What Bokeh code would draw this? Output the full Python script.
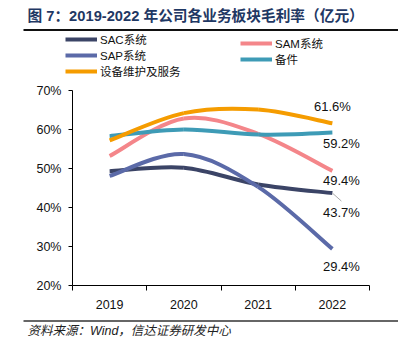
from bokeh.plotting import figure
from bokeh.layouts import column
from bokeh.models import (Range1d, FixedTicker, PrintfTickFormatter, Label, Legend,
                          LegendItem, Arrow)
from bokeh.embed import file_html
from bokeh.resources import INLINE

# ---- data ----
years = ["2019", "2020", "2021", "2022"]
sac = [49.3, 50.2, 45.9, 43.7]
sam = [53.2, 62.8, 58.9, 49.4]
sap = [48.1, 53.7, 45.3, 29.4]
spare = [58.3, 60.0, 58.7, 59.2]
service = [57.2, 64.2, 65.1, 61.6]

names = ["SAC系统", "SAM系统", "SAP系统", "备件", "设备维护及服务"]
colors = ["#3B4466", "#F4868A", "#5B6AA8", "#3E9BB6", "#F59C00"]
series = [sac, sam, sap, spare, service]

title_text = "图 7：2019-2022 年公司各业务板块毛利率（亿元）"
source_text = "资料来源：Wind，信达证券研发中心"

FONT = "'Liberation Sans', 'Noto Sans CJK SC', sans-serif"

W = 398
TOP_H, MID_H, BOT_H = 82, 230, 35


def blank_fig(h):
    f = figure(width=W, height=h, output_backend="svg", toolbar_location=None,
               x_range=Range1d(0, W), y_range=Range1d(h, 0),
               x_axis_type=None, y_axis_type=None,
               min_border_left=0, min_border_right=0, min_border_top=0, min_border_bottom=0)
    f.frame_align = False
    f.outline_line_color = None
    f.grid.visible = False
    f.background_fill_color = "white"
    f.border_fill_color = "white"
    return f


# ---------------- top: title + legend ----------------
top = blank_fig(TOP_H)
top.add_layout(Label(x=27, y=15, text=title_text, text_font=FONT, text_font_style="bold",
                     text_font_size="14.7px", text_color="#1F3864",
                     text_baseline="middle", text_align="left"))
top.segment(x0=[23], y0=[29.5], x1=[W], y1=[29.5], line_color="#111111", line_width=2)

proxies = {}
for k in range(5):
    proxies[k] = top.line(x=[-100, -90], y=[-100, -100], line_color=colors[k], line_width=4)


def make_legend(keys, loc):
    return Legend(items=[LegendItem(label=names[k], renderers=[proxies[k]]) for k in keys],
                  location=loc, orientation="vertical",
                  glyph_width=32, glyph_height=12, label_height=12, label_standoff=3,
                  spacing=0, padding=0, margin=0,
                  border_line_color=None, background_fill_alpha=0,
                  label_text_font=FONT, label_text_font_size="11.5px",
                  label_text_color="#111111")


top.add_layout(make_legend([0, 2, 4], (65, TOP_H - 79)))
top.add_layout(make_legend([1, 3], (240, TOP_H - 67)))

# ---------------- middle: chart ----------------
L, R, T = 72, 29, 8
B = MID_H - T - 195
p = figure(width=W, height=MID_H, output_backend="svg", toolbar_location=None,
           x_range=Range1d(-0.5, 3.5), y_range=Range1d(20, 70),
           min_border_left=L, min_border_right=R, min_border_top=T, min_border_bottom=B)
p.frame_align = False
p.outline_line_color = None
p.grid.visible = False
p.background_fill_color = "white"
p.border_fill_color = "white"

xa = p.xaxis[0]
xa.ticker = FixedTicker(ticks=[0, 1, 2, 3], minor_ticks=[-0.5, 0.5, 1.5, 2.5, 3.5])
xa.major_label_overrides = {i: y for i, y in enumerate(years)}
xa.major_tick_out = 0
xa.major_tick_in = 0
xa.minor_tick_out = 5
xa.minor_tick_in = 0
xa.minor_tick_line_color = "black"
xa.axis_line_color = "black"
xa.major_label_standoff = 9
xa.major_label_text_font = FONT
xa.major_label_text_font_size = "12.5px"
xa.major_label_text_color = "#111111"

ya = p.yaxis[0]
ya.ticker = FixedTicker(ticks=[20, 30, 40, 50, 60, 70])
ya.formatter = PrintfTickFormatter(format="%d%%")
ya.major_tick_out = 4
ya.major_tick_in = 0
ya.minor_tick_out = 0
ya.minor_tick_in = 0
ya.axis_line_color = "black"
ya.major_tick_line_color = "black"
ya.major_label_standoff = 7
ya.major_label_text_font = FONT
ya.major_label_text_font_size = "12.5px"
ya.major_label_text_color = "#111111"


def smooth_segments(vals):
    n = len(vals)
    xs = list(range(n))
    seg = dict(x0=[], y0=[], x1=[], y1=[], cx0=[], cy0=[], cx1=[], cy1=[])
    for i in range(n - 1):
        im1 = max(i - 1, 0)
        ip2 = min(i + 2, n - 1)
        seg["x0"].append(xs[i]); seg["y0"].append(vals[i])
        seg["x1"].append(xs[i + 1]); seg["y1"].append(vals[i + 1])
        seg["cx0"].append(xs[i] + (xs[i + 1] - xs[im1]) / 6)
        seg["cy0"].append(vals[i] + (vals[i + 1] - vals[im1]) / 6)
        seg["cx1"].append(xs[i + 1] - (xs[ip2] - xs[i]) / 6)
        seg["cy1"].append(vals[i + 1] - (vals[ip2] - vals[i]) / 6)
    return seg


for k in [0, 2, 1, 3, 4]:
    s = smooth_segments(series[k])
    p.bezier(x0=s["x0"], y0=s["y0"], x1=s["x1"], y1=s["y1"],
             cx0=s["cx0"], cy0=s["cy0"], cx1=s["cx1"], cy1=s["cy1"],
             line_color=colors[k], line_width=4)

offsets = {4: (0, 17), 3: (9, -11), 1: (9, -10), 0: (9, -19), 2: (9, -18)}
for k, (dx, dy) in offsets.items():
    v = series[k][-1]
    p.add_layout(Label(x=3, y=v, text=f"{v:.1f}%", x_offset=dx, y_offset=dy,
                       text_align="center", text_baseline="middle",
                       text_font=FONT, text_font_size="13px", text_color="#111111"))

p.add_layout(Arrow(end=None, x_start=3, y_start=sac[-1], x_end=3 + 9 / 74.25,
                   y_end=sac[-1] - 8 / 3.9, line_color="#AAAAAA", line_width=1))

# ---------------- bottom: source ----------------
bot = blank_fig(BOT_H)
bot.segment(x0=[23], y0=[8.5], x1=[W], y1=[8.5], line_color="#333333", line_width=1.5)
bot.add_layout(Label(x=27, y=18, text=source_text, text_font=FONT, text_font_style="italic",
                     text_font_size="12.5px", text_color="#222222",
                     text_baseline="middle", text_align="left"))

layout = column(top, p, bot, spacing=0)
open("out.html", "w").write(file_html(layout, INLINE))
